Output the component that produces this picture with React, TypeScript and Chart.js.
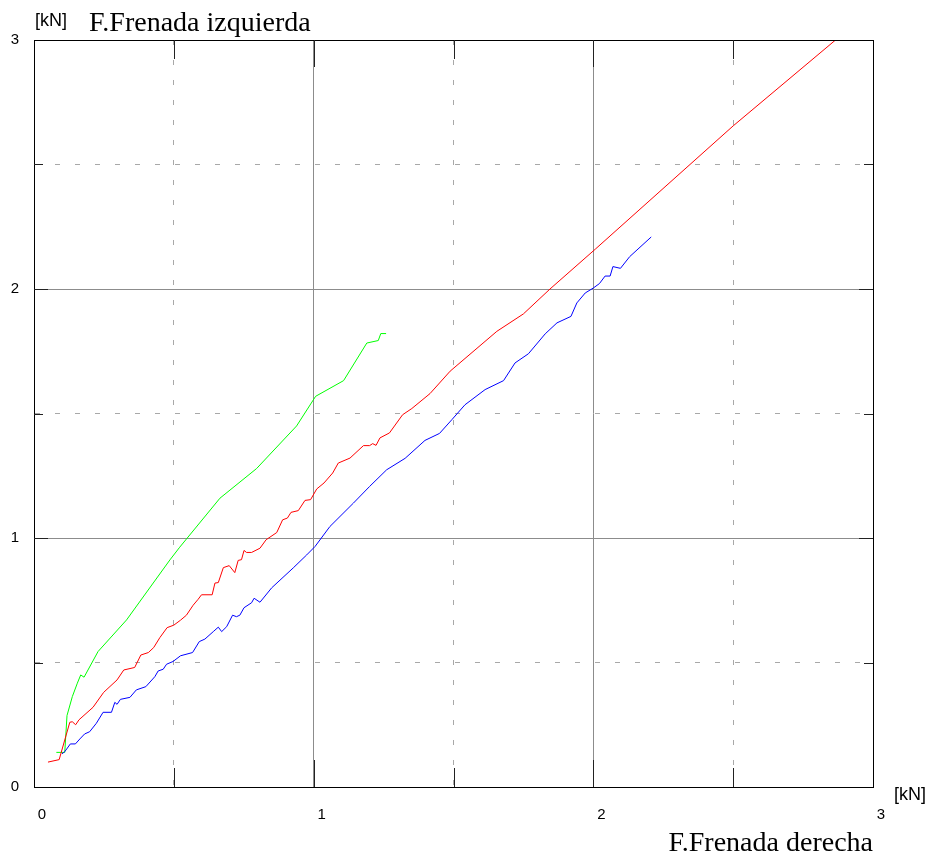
import React, { useEffect, useRef } from "react";
import { Chart, registerables } from "chart.js";

Chart.register(...registerables);

// ---- data (kN) ----
const redX = [0.05, 0.09, 0.128, 0.137, 0.149, 0.161, 0.211, 0.249, 0.297, 0.321, 0.36, 0.382, 0.409, 0.428, 0.45, 0.476, 0.5, 0.524, 0.545, 0.569, 0.587, 0.599, 0.637, 0.647, 0.659, 0.677, 0.698, 0.718, 0.73, 0.742, 0.751, 0.76, 0.778, 0.808, 0.83, 0.868, 0.889, 0.906, 0.919, 0.945, 0.969, 0.989, 1.011, 1.037, 1.068, 1.088, 1.13, 1.178, 1.2, 1.211, 1.223, 1.237, 1.271, 1.318, 1.351, 1.416, 1.488, 1.655, 1.75, 1.845, 2.007, 2.5, 2.866];
const redY = [0.1, 0.11, 0.26, 0.262, 0.25, 0.27, 0.32, 0.38, 0.43, 0.47, 0.48, 0.53, 0.54, 0.56, 0.6, 0.64, 0.65, 0.67, 0.69, 0.73, 0.754, 0.772, 0.772, 0.819, 0.821, 0.881, 0.889, 0.861, 0.91, 0.913, 0.95, 0.942, 0.942, 0.959, 0.993, 1.022, 1.073, 1.08, 1.103, 1.11, 1.151, 1.154, 1.197, 1.221, 1.261, 1.301, 1.321, 1.371, 1.371, 1.379, 1.372, 1.402, 1.422, 1.495, 1.52, 1.58, 1.67, 1.83, 1.9, 2.0, 2.16, 2.655, 3.0];

const blueX = [0.1, 0.11, 0.13, 0.148, 0.164, 0.181, 0.199, 0.223, 0.247, 0.277, 0.289, 0.297, 0.309, 0.343, 0.366, 0.4, 0.432, 0.444, 0.462, 0.474, 0.497, 0.524, 0.567, 0.591, 0.611, 0.641, 0.659, 0.671, 0.689, 0.71, 0.724, 0.736, 0.751, 0.778, 0.787, 0.808, 0.85, 0.927, 0.975, 1.005, 1.058, 1.142, 1.2, 1.261, 1.327, 1.398, 1.45, 1.494, 1.541, 1.613, 1.679, 1.72, 1.768, 1.828, 1.87, 1.92, 1.941, 1.971, 2.0, 2.022, 2.042, 2.06, 2.07, 2.097, 2.13, 2.207];
const blueY = [0.133, 0.142, 0.173, 0.173, 0.193, 0.213, 0.222, 0.256, 0.3, 0.3, 0.34, 0.332, 0.352, 0.36, 0.39, 0.403, 0.443, 0.466, 0.473, 0.493, 0.504, 0.527, 0.54, 0.584, 0.594, 0.624, 0.642, 0.624, 0.644, 0.69, 0.684, 0.69, 0.72, 0.74, 0.758, 0.742, 0.8, 0.88, 0.932, 0.966, 1.046, 1.14, 1.207, 1.274, 1.32, 1.392, 1.42, 1.475, 1.535, 1.596, 1.632, 1.703, 1.74, 1.82, 1.864, 1.89, 1.944, 1.984, 2.004, 2.022, 2.052, 2.052, 2.09, 2.083, 2.13, 2.209];

const greenX = [0.08, 0.11, 0.118, 0.137, 0.155, 0.167, 0.179, 0.229, 0.331, 0.486, 0.521, 0.665, 0.796, 0.939, 1.007, 1.107, 1.19, 1.231, 1.24, 1.259];
const greenY = [0.139, 0.139, 0.287, 0.363, 0.417, 0.45, 0.441, 0.544, 0.671, 0.912, 0.963, 1.16, 1.279, 1.45, 1.569, 1.632, 1.783, 1.793, 1.821, 1.821];

const axisMin = 0;
const axisMax = 3;
const gridStep = 0.5;
const tickLabels = ["0", "1", "2", "3"];
const unitLabel = "[kN]";
const yTitle = "F.Frenada izquierda";
const xTitle = "F.Frenada derecha";

const toPoints = (xs: number[], ys: number[]) => xs.map((x, i) => ({ x, y: ys[i] }));

const isMajor = (v: number) => Math.abs(v - Math.round(v)) < 1e-6;

const framePlugin = {
  id: "frame",
  afterDraw(chart: any) {
    const { ctx, chartArea } = chart;
    const { left, right, top, bottom } = chartArea;
    const xs = chart.scales.x;
    const ys = chart.scales.y;
    ctx.save();
    ctx.strokeStyle = "#000";
    ctx.lineWidth = 1;
    const a = (p: number) => Math.round(p) + 0.5;
    ctx.strokeRect(a(left), a(top), Math.round(right) - Math.round(left), Math.round(bottom) - Math.round(top));
    ctx.strokeStyle = "#222";
    for (let v = axisMin + gridStep; v < axisMax - 1e-6; v += gridStep) {
      const len = isMajor(v) ? 27 : 19;
      const px = a(xs.getPixelForValue(v));
      ctx.beginPath();
      ctx.moveTo(px, top);
      ctx.lineTo(px, top + len);
      ctx.moveTo(px, bottom);
      ctx.lineTo(px, bottom - len);
      ctx.stroke();
      const py = a(ys.getPixelForValue(v));
      const lenY = isMajor(v) ? 14 : 9;
      ctx.beginPath();
      ctx.moveTo(left, py);
      ctx.lineTo(left + lenY, py);
      ctx.moveTo(right, py);
      ctx.lineTo(right - lenY, py);
      ctx.stroke();
    }
    ctx.restore();
  },
};

const tickFont = { family: "'Liberation Sans', Arial, sans-serif", size: 15 };

export default function App() {
  const canvasRef = useRef<HTMLCanvasElement | null>(null);

  useEffect(() => {
    if (!canvasRef.current) return;
    const gridColor = (c: any) => (c.tick && !isMajor(c.tick.value) ? "#a8a8a8" : "#8c8c8c");
    const gridDash = (c: any) => (c.tick && !isMajor(c.tick.value) ? [5, 15] : []);
    const labelCb = (v: any) => {
      const n = Number(v);
      return isMajor(n) ? tickLabels[Math.round(n)] : "";
    };
    const chart = new Chart(canvasRef.current, {
      type: "scatter",
      data: {
        datasets: [
          { data: toPoints(redX, redY), borderColor: "#ff0000", backgroundColor: "#ff0000" },
          { data: toPoints(blueX, blueY), borderColor: "#0000ff", backgroundColor: "#0000ff" },
          { data: toPoints(greenX, greenY), borderColor: "#00ff00", backgroundColor: "#00ff00" },
        ].map((d) => ({ ...d, showLine: true, borderWidth: 1, pointRadius: 0, pointHoverRadius: 0, tension: 0 })),
      },
      options: {
        animation: false,
        responsive: false,
        devicePixelRatio: 1,
        layout: { padding: { left: 0, top: 40, right: 59, bottom: 0 } },
        plugins: { legend: { display: false }, tooltip: { enabled: false }, title: { display: false } },
        scales: {
          x: {
            type: "linear",
            min: axisMin,
            max: axisMax,
            afterFit: (s: any) => { s.height = 76; },
            ticks: { stepSize: gridStep, callback: labelCb, autoSkip: false, maxRotation: 0, labelOffset: 8, padding: 19, color: "#000", font: tickFont },
            grid: { color: gridColor, lineWidth: 1, drawTicks: false },
            border: { display: true, color: "#000", width: 1, dash: gridDash },
          },
          y: {
            type: "linear",
            min: axisMin,
            max: axisMax,
            afterFit: (s: any) => { s.width = 34; },
            ticks: { stepSize: gridStep, callback: labelCb, autoSkip: false, padding: 15, color: "#000", font: tickFont },
            grid: { color: gridColor, lineWidth: 1, drawTicks: false },
            border: { display: true, color: "#000", width: 1, dash: gridDash },
          },
        },
      },
      plugins: [framePlugin],
    } as any);
    return () => chart.destroy();
  }, []);

  const serif = "'Liberation Serif', 'Times New Roman', serif";
  const sans = "'Liberation Sans', Arial, sans-serif";
  return (
    <div style={{ position: "fixed", left: 0, top: 0, width: 932, height: 863, background: "#fff" }}>
      <canvas ref={canvasRef} width={932} height={863} style={{ position: "absolute", left: 0, top: 0, width: 932, height: 863 }} />
      <div style={{ position: "absolute", left: 35, top: 11, fontFamily: sans, fontSize: 18, lineHeight: "18px", whiteSpace: "nowrap" }}>{unitLabel}</div>
      <div style={{ position: "absolute", left: 89, top: 8, fontFamily: serif, fontSize: 28, lineHeight: "28px", whiteSpace: "nowrap" }}>{yTitle}</div>
      <div style={{ position: "absolute", left: 894, top: 785, fontFamily: sans, fontSize: 18, lineHeight: "18px", whiteSpace: "nowrap" }}>{unitLabel}</div>
      <div style={{ position: "absolute", right: 59, top: 828, fontFamily: serif, fontSize: 28, lineHeight: "28px", whiteSpace: "nowrap", textAlign: "right" }}>{xTitle}</div>
    </div>
  );
}
